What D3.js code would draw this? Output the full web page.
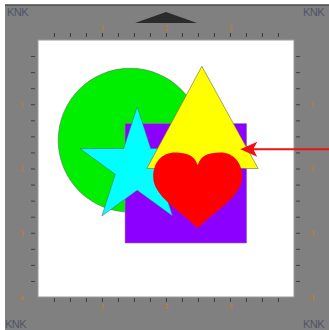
<!DOCTYPE html>
<html>
<head>
<meta charset="utf-8">
<script src="https://cdn.jsdelivr.net/npm/d3@7"></script>
<style>
  body { margin: 0; background: #fff; }
  svg { display: block; }
</style>
</head>
<body>
<div id="canvas"></div>
<script>
"use strict";

// Mat coordinates are in inches (0..4 on the white cutting area)

let svgWidth = 329;
let svgHeight = 330;

// ruler ticks every quarter inch, labels on whole inches
let rulerTicks = [0.25, 0.5, 0.75, 1, 1.25, 1.5, 1.75, 2, 2.25, 2.5, 2.75, 3, 3.25, 3.5, 3.75];
let topLabels = [1, 2, 3];
let sideLabels = [1, 2, 3, 4];
let cornerText = ["KNK", "KNK", "KNK", "KNK"];

// shapes (inches)
let circleShape = [1.44, 1.56, 1.125];           // cx, cy, r
let squareShape = [1.36, 1.30, 1.9, 1.86];       // x, y, w, h
let starShape = [1.55, 1.98, 0.94, 0.36];        // cx, cy, outer r, inner r
let triangleShape = [[2.56, 0.41], [1.70, 2.0], [3.44, 2.0]];
let heartShape = [1.80, 1.75, 1.39, 1.18];       // x, y, w, h
let arrowShape = [3.16, 1.70, 4.65];             // tip x, y, tail x

let svg = d3.select("#canvas")
    .append("svg")
    .attr("width", svgWidth)
    .attr("height", svgHeight);

let x = d3.scaleLinear().domain([0, 4]).range([38, 294]);
let y = d3.scaleLinear().domain([0, 4]).range([40, 297]);

// mat background
svg.append("rect")
    .attr("x", 5).attr("y", 5)
    .attr("width", svgWidth - 5).attr("height", svgHeight - 5)
    .attr("fill", "#808080");

svg.append("line")
    .attr("x1", 5).attr("x2", svgWidth)
    .attr("y1", 5).attr("y2", 5)
    .attr("stroke", "#4a4a4a")
    .attr("stroke-width", 1.5);

// top guide arrow
svg.append("path")
    .attr("d", "M135,23 L166,12 L197,23 Z")
    .attr("fill", "#2b2b2b");

// white cutting area
svg.append("rect")
    .attr("x", x(0)).attr("y", y(0))
    .attr("width", x(4) - x(0)).attr("height", y(4) - y(0))
    .attr("fill", "#fff")
    .attr("stroke", "#9a9a9a")
    .attr("stroke-width", 1);

// rulers
function styleAxis(g) {
    g.select(".domain").remove();
    g.selectAll(".tick line").attr("stroke", "#3f3f3f").attr("stroke-width", 1);
    g.selectAll(".tick text")
        .attr("fill", "#c47a2c")
        .attr("font-size", 7)
        .attr("font-family", "DejaVu Sans, sans-serif");
}

svg.append("g")
    .attr("transform", "translate(0,37)")
    .call(d3.axisTop(x).tickValues(rulerTicks).tickSize(4).tickPadding(2)
        .tickFormat(d => topLabels.includes(d) ? d : ""))
    .call(styleAxis);

svg.append("g")
    .attr("transform", "translate(0,298)")
    .call(d3.axisBottom(x).tickValues(rulerTicks).tickSize(4).tickPadding(2)
        .tickFormat(d => topLabels.includes(d) ? d : ""))
    .call(styleAxis);

svg.append("g")
    .attr("transform", "translate(35,0)")
    .call(d3.axisLeft(y).tickValues(rulerTicks.concat([4])).tickSize(4).tickPadding(7)
        .tickFormat(d => sideLabels.includes(d) ? d : ""))
    .call(styleAxis)
    .call(g => g.selectAll(".tick").filter(d => d === 4).select("line").remove());

svg.append("g")
    .attr("transform", "translate(296,0)")
    .call(d3.axisRight(y).tickValues(rulerTicks.concat([4])).tickSize(4).tickPadding(10)
        .tickFormat(d => sideLabels.includes(d) ? d : ""))
    .call(styleAxis)
    .call(g => g.selectAll(".tick").filter(d => d === 4).select("line").remove());

// corner logos
let corners = [[7, 16], [303, 16], [5, 328], [303, 328]];
cornerText.forEach((t, i) => {
    svg.append("text")
        .attr("x", corners[i][0])
        .attr("y", corners[i][1])
        .attr("font-family", "Liberation Sans, Arial, sans-serif")
        .attr("font-size", 11)
        .attr("letter-spacing", -0.5)
        .attr("fill", "#4e5566")
        .text(t);
});

let outline = "#5a5a5a";

// circle
svg.append("circle")
    .attr("cx", x(circleShape[0]))
    .attr("cy", y(circleShape[1]))
    .attr("r", x(circleShape[2]) - x(0))
    .attr("fill", "#00ee00")
    .attr("stroke", outline)
    .attr("stroke-width", 0.5);

// square
svg.append("rect")
    .attr("x", x(squareShape[0]))
    .attr("y", y(squareShape[1]))
    .attr("width", x(squareShape[2]) - x(0))
    .attr("height", y(squareShape[3]) - y(0))
    .attr("fill", "#8c00ff")
    .attr("stroke", "#9a7ab0")
    .attr("stroke-width", 0.5);

// star
let starPoints = d3.range(10).map(i => {
    let a = -Math.PI / 2 + i * Math.PI / 5;
    let rr = i % 2 === 0 ? starShape[2] : starShape[3];
    return [x(starShape[0] + rr * Math.cos(a)), y(starShape[1] + rr * Math.sin(a))];
});
svg.append("path")
    .attr("d", d3.line()(starPoints) + "Z")
    .attr("fill", "#00ffff")
    .attr("stroke", outline)
    .attr("stroke-width", 0.5);

// triangle
svg.append("path")
    .attr("d", d3.line().x(d => x(d[0])).y(d => y(d[1]))(triangleShape) + "Z")
    .attr("fill", "#ffff00")
    .attr("stroke", "#6b6b3a")
    .attr("stroke-width", 0.6);

// heart
let hx = d3.scaleLinear().domain([0, 1]).range([x(heartShape[0]), x(heartShape[0] + heartShape[2])]);
let hy = d3.scaleLinear().domain([0, 1]).range([y(heartShape[1]), y(heartShape[1] + heartShape[3])]);
let hp = d3.path();
hp.moveTo(hx(0.5), hy(0.17));
hp.bezierCurveTo(hx(0.47), hy(0.04), hx(0.38), hy(0), hx(0.25), hy(0));
hp.bezierCurveTo(hx(0.09), hy(0), hx(0), hy(0.14), hx(0), hy(0.32));
hp.bezierCurveTo(hx(0), hy(0.58), hx(0.3), hy(0.76), hx(0.5), hy(1));
hp.bezierCurveTo(hx(0.7), hy(0.76), hx(1), hy(0.58), hx(1), hy(0.32));
hp.bezierCurveTo(hx(1), hy(0.14), hx(0.91), hy(0), hx(0.75), hy(0));
hp.bezierCurveTo(hx(0.62), hy(0), hx(0.53), hy(0.04), hx(0.5), hy(0.17));
hp.closePath();
svg.append("path")
    .attr("d", hp.toString())
    .attr("fill", "#ff0000");

// pointer arrow
svg.append("line")
    .attr("x1", x(arrowShape[0]) + 10)
    .attr("x2", x(arrowShape[2]))
    .attr("y1", y(arrowShape[1]))
    .attr("y2", y(arrowShape[1]))
    .attr("stroke", "#ee1111")
    .attr("stroke-width", 2);

svg.append("path")
    .attr("d", `M${x(arrowShape[0])},${y(arrowShape[1])} L${x(arrowShape[0]) + 17},${y(arrowShape[1]) - 7.5} L${x(arrowShape[0]) + 13},${y(arrowShape[1])} L${x(arrowShape[0]) + 17},${y(arrowShape[1]) + 7.5} Z`)
    .attr("fill", "#ee1111");
</script>
</body>
</html>
